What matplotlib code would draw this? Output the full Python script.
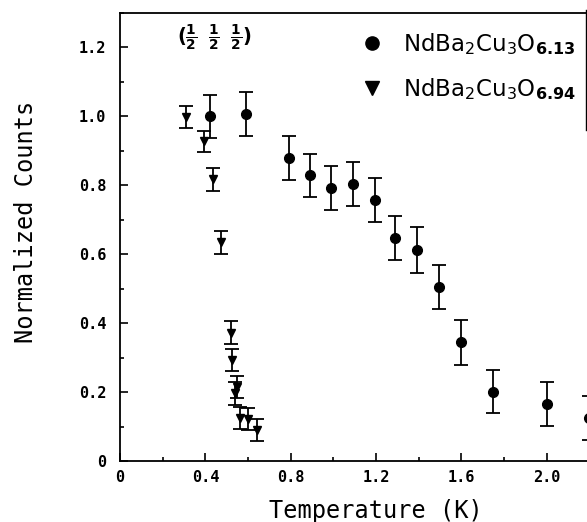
import numpy as np
import matplotlib.pyplot as plt
from matplotlib.ticker import MultipleLocator, FixedLocator, FuncFormatter
from matplotlib.lines import Line2D

# NdBa2Cu3O6.13 (circles)
t_613 = [0.42, 0.59, 0.79, 0.89, 0.99, 1.09, 1.195, 1.29, 1.39, 1.495, 1.60, 1.75, 2.0, 2.2]
c_613 = [1.00, 1.007, 0.878, 0.829, 0.792, 0.805, 0.757, 0.646, 0.612, 0.505, 0.344, 0.201, 0.165, 0.125]
e_613 = [0.063, 0.064, 0.064, 0.063, 0.064, 0.064, 0.063, 0.064, 0.066, 0.064, 0.064, 0.063, 0.063, 0.064]

# NdBa2Cu3O6.94 (triangles)
t_694 = [0.31, 0.394, 0.434, 0.473, 0.519, 0.527, 0.547, 0.539, 0.5625, 0.599, 0.641]
c_694 = [0.998, 0.928, 0.817, 0.635, 0.372, 0.293, 0.215, 0.196, 0.124, 0.121, 0.09]
e_694 = [0.032, 0.031, 0.033, 0.033, 0.033, 0.033, 0.032, 0.033, 0.032, 0.032, 0.032]

x_ticks = [0, 0.4, 0.8, 1.2, 1.6, 2.0]
lab_613 = r'NdBa$_2$Cu$_3$O$_{\mathbf{6.13}}$'
lab_694 = r'NdBa$_2$Cu$_3$O$_{\mathbf{6.94}}$'

fig = plt.figure(figsize=(5.87, 5.22), dpi=100)
# axes runs past the right edge, as in the cropped original
ax = fig.add_axes([120 / 587, 61 / 522, 512 / 587, 448 / 522])
ax.set_xlim(0, 2.4)
ax.set_ylim(0, 1.3)

ax.errorbar(t_613, c_613, yerr=e_613, fmt='o', color='black', ms=7,
            capsize=5, elinewidth=1.3, capthick=1.3, clip_on=False)
ax.errorbar(t_694, c_694, yerr=e_694, fmt='v', color='black', ms=6,
            capsize=5, elinewidth=1.3, capthick=1.3)

for s in ax.spines.values():
    s.set_linewidth(1.3)

ax.xaxis.set_major_locator(FixedLocator(x_ticks))
ax.xaxis.set_minor_locator(FixedLocator([0.2, 0.6, 1.0, 1.4, 1.8, 2.2]))
ax.yaxis.set_major_locator(MultipleLocator(0.2))
ax.yaxis.set_minor_locator(MultipleLocator(0.1))
fmt = FuncFormatter(lambda v, p: '0' if abs(v) < 1e-9 else '%.1f' % v)
ax.xaxis.set_major_formatter(fmt)
ax.yaxis.set_major_formatter(fmt)
ax.tick_params(which='both', direction='in', top=False, right=False, width=1.2)
ax.tick_params(which='major', length=6)
ax.tick_params(which='minor', length=3)
ax.tick_params(axis='y', which='major', pad=10)
ax.tick_params(axis='x', which='major', pad=6.5)
for lbl in ax.get_xticklabels() + ax.get_yticklabels():
    lbl.set_family('DejaVu Sans Mono')
    lbl.set_fontweight('bold')
    lbl.set_fontsize(11)

ax.set_xlabel('Temperature (K)', fontsize=17, family='DejaVu Sans Mono', labelpad=10)
ax.set_ylabel('Normalized Counts', fontsize=17, family='DejaVu Sans Mono')
ax.yaxis.set_label_coords(-0.161, 0.533)

ax.text(0.267, 1.229, r'$\mathbf{(\frac{1}{2}\;\;\frac{1}{2}\;\;\frac{1}{2})}$', fontsize=14,
        va='center', ha='left')

h1 = Line2D([], [], marker='o', ls='none', color='black', ms=9.5)
h2 = Line2D([], [], marker='v', ls='none', color='black', ms=9.5)
ax.legend([h1, h2], [lab_613, lab_694], loc='upper left', bbox_to_anchor=(0.451, 0.98),
          frameon=False, fontsize=16.5, handlelength=1.0, handletextpad=0.86,
          labelspacing=0.85, borderaxespad=0)

fig.add_artist(Line2D([0.998, 0.998], [1 - 10 / 522, 1 - 130 / 522], color='black', lw=1))

fig.savefig('out.png', dpi=100)
